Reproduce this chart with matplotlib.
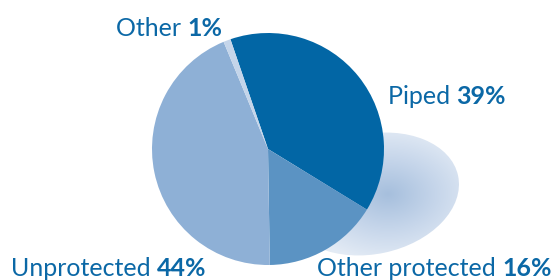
import numpy as np
import matplotlib.pyplot as plt
from matplotlib.patches import Ellipse
from matplotlib.colors import LinearSegmentedColormap

# Datos
categorias = ["Piped", "Other protected", "Unprotected", "Other"]
valores = [39, 16, 44, 1]
colores = ["#0266a5", "#5b93c3", "#8eb0d6", "#c4d5ea"]
color_texto = "#0b68a6"

plt.rcParams['font.family'] = ['Lato', 'DejaVu Sans']

fig = plt.figure(figsize=(5.58, 2.8), dpi=100)
ax = fig.add_axes([0, 0, 1, 1])

# Sombra eliptica con degradado radial
elipse = Ellipse((372, 86), 176, 120, angle=12, facecolor="none", edgecolor="none")
ax.add_patch(elipse)
xx, yy = np.meshgrid(np.linspace(270, 470, 300), np.linspace(10, 160, 240))
dx = (xx - 388) / 95
dy = (yy - 86) / 68
r = np.clip(np.sqrt(dx**2 + dy**2), 0, 1)
cmap = LinearSegmentedColormap.from_list("sombra", ["#a6bfdd", "#c5d5ea", "#e3ebf5"])
img = ax.imshow(r, extent=(270, 470, 10, 160), origin="lower", cmap=cmap,
                vmin=0, vmax=1, interpolation="bilinear", zorder=1)
img.set_clip_path(elipse)

# Torta
ax.pie(valores, colors=colores, startangle=108.9, counterclock=False,
       center=(268, 131), radius=116, frame=True,
       wedgeprops=dict(linewidth=0, zorder=2))
ax.set_xlim(0, 558)
ax.set_ylim(0, 280)
ax.set_aspect("equal")
ax.axis("off")

# Etiquetas
etiquetas = [("Other ", "1%", 116, 240),
             ("Piped ", "39%", 388, 172),
             ("Unprotected ", "44%", 11, 0),
             ("Other protected ", "16%", 317, 0)]
for nombre, pct, x, y in etiquetas:
    t = ax.text(x, y, nombre, fontsize=18, color=color_texto, va="bottom", ha="left")
    ax.annotate(pct, xy=(1, 0), xycoords=t, fontsize=18, fontweight="bold",
                color=color_texto, va="bottom", ha="left")

fig.savefig("out.png", dpi=100)
